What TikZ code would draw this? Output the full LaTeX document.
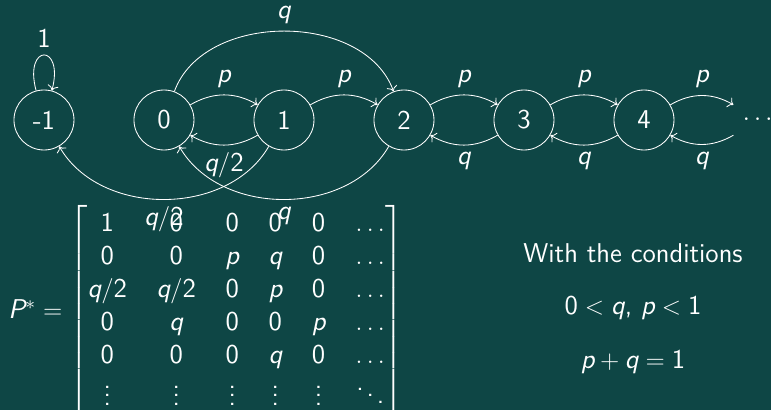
\documentclass[tikz,border=0pt]{standalone}
\usepackage{amsmath}
\usepackage{amssymb}
\usepackage{tikz}
\usetikzlibrary{arrows.meta, positioning}
\renewcommand{\familydefault}{\sfdefault}
\DeclareSymbolFont{sfletters}{TU}{lmss}{m}{sl}
\DeclareSymbolFont{sfdigits}{TU}{lmss}{m}{n}
\DeclareMathSymbol{p}{\mathalpha}{sfletters}{`p}
\DeclareMathSymbol{q}{\mathalpha}{sfletters}{`q}
\DeclareMathSymbol{P}{\mathalpha}{sfletters}{`P}
\DeclareMathSymbol{0}{\mathalpha}{sfdigits}{`0}
\DeclareMathSymbol{1}{\mathalpha}{sfdigits}{`1}
\DeclareMathSymbol{2}{\mathalpha}{sfdigits}{`2}
\definecolor{slidebg}{RGB}{14,70,69}
\tikzstyle{stnode} = [circle, minimum size=1cm, text centered, draw=white]
\tikzstyle{trans} = [-{To}, draw=white]
\tikzstyle{cond} = [rectangle, text centered, inner sep=0pt]

\begin{document}
\begin{tikzpicture}[node distance=2cm, color=white, font=\fontsize{12.9}{15.6}\selectfont]
\useasboundingbox[fill=slidebg] (-0.733,2) rectangle (12.117,-4.833);
\node (m1) [stnode] {-1};
\node (s0) [stnode, right of=m1] {0};
\node (s1) [stnode, right of=s0] {1};
\node (s2) [stnode, right of=s1] {2};
\node (s3) [stnode, right of=s2] {3};
\node (s4) [stnode, right of=s3] {4};
\node (sdots) [stnode, draw=none, right of=s4, xshift=-0.07cm] {$\cdots$};
\draw [trans] (m1) to [loop above] node [above] {1} (m1);
\draw [trans] (s0) to [bend left=30] node [above] {$p$} (s1);
\draw [trans] (s1) to [bend left=30] node [below] {$q/2$} (s0);
\draw [trans] (s1) to [bend left=30] node [above] {$p$} (s2);
\draw [trans] (s0) to [bend left=70] node [above] {$q$} (s2);
\draw [trans] (s1) to [bend left=60] node [below] {$q/2$} (m1);
\draw [trans] (s2) to [bend left=60] node [below] {$q$} (s0);
\draw [trans] (s2) to [bend left=30] node [above] {$p$} (s3);
\draw [trans] (s3) to [bend left=30] node [below] {$q$} (s2);
\draw [trans] (s3) to [bend left=30] node [above] {$p$} (s4);
\draw [trans] (s4) to [bend left=30] node [below] {$q$} (s3);
\draw [trans] (s4) to [bend left=30] node [above] {$p$} (sdots);
\draw [trans] (sdots) to [bend left=30] node [below] {$q$} (s4);
\node (pmat) [cond, anchor=west] at (-0.6,-3.2) {\setlength{\arraycolsep}{7pt}\delimitershortfall=-2pt$P^* = \begin{bmatrix}
1 & 0 & 0 & 0 & 0 & \dots \\
0 & 0 & p & q & 0 & \dots \\
q/2 & q/2 & 0 & p & 0 & \dots \\
0 & q & 0 & 0 & p & \dots \\
0 & 0 & 0 & q & 0 & \dots \\
\vdots & \vdots & \vdots & \vdots & \vdots & \ddots
\end{bmatrix}$};
\node (withc) [cond] at (9.817,-2.217) {With the conditions};
\node (ineq) [cond] at (9.817,-3.133) {$0 < q$, $p < 1$};
\node (norm) [cond] at (9.817,-4.033) {$p + q = 1$};
\end{tikzpicture}
\end{document}
